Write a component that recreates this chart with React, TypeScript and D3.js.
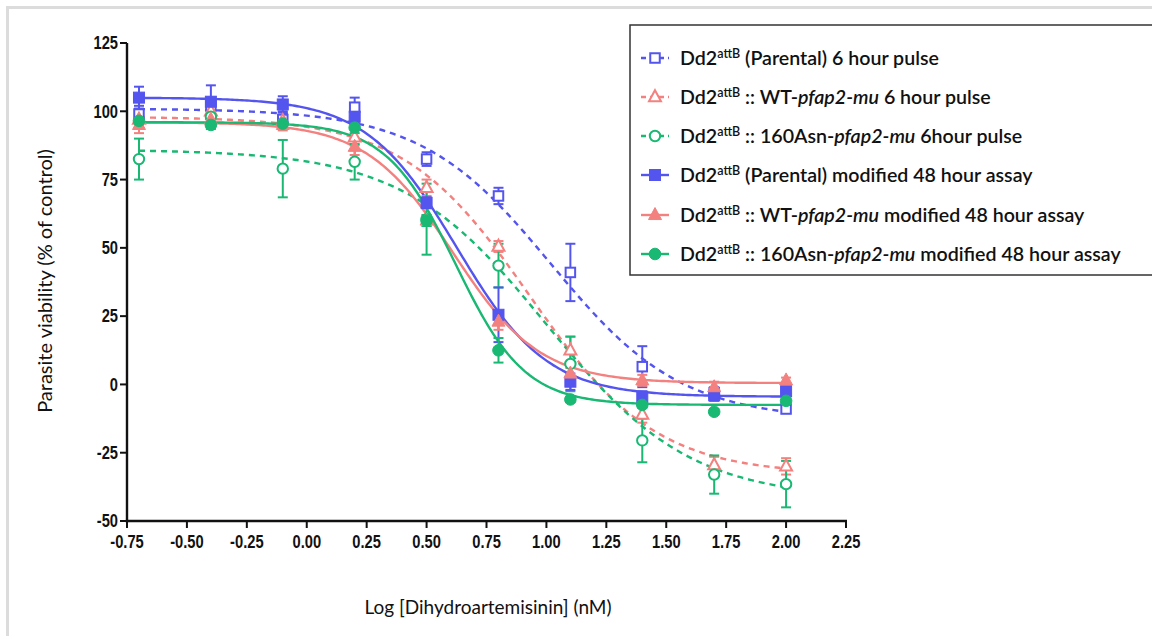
import React from "react";
import * as d3 from "d3";

const logDose = [-0.7, -0.4, -0.1, 0.2, 0.5, 0.8, 1.1, 1.4, 1.7, 2.0];

const parental6h = [99, 102, 97, 101.5, 82.5, 69, 41, 6.5, -3, -9];
const parental6hErr = [3, 3, 3, 3.5, 2.5, 3, 10.5, 7.5, 2, 1.5];
const wt6h = [97, 100, 96.5, 90.5, 72, 50.5, 12.5, -11, -29.5, -30];
const wt6hErr = [2, 2, 2, 3, 3, 2, 5, 3, 3, 3];
const asn6h = [82.5, 98, 79, 81.5, 60.5, 43.5, 7.5, -20.5, -33, -36.5];
const asn6hErr = [7.5, 2, 10.5, 6.5, 13, 8, 10, 8, 7, 8.5];
const parental48h = [105, 103.5, 102.5, 98, 66.5, 25.5, 1, -4.5, -4, -2.5];
const parental48hErr = [4, 6, 3, 3, 2, 10, 3, 2, 2, 1];
const wt48h = [95, 97, 95, 87, 60, 23, 4, 1.5, -1, 1.5];
const wt48hErr = [3, 3, 2, 3, 2, 3, 2, 2, 2, 1];
const asn48h = [96.5, 95, 95.5, 94, 60, 12.5, -5.5, -7.5, -10, -6];
const asn48hErr = [2, 1.5, 2, 2, 2, 4.5, 1, 1, 1, 1];

// four-parameter logistic fit parameters per series
const fitTop = [101, 98, 86, 105, 96, 96];
const fitBottom = [-13, -33, -42, -4.5, 0.5, -7.5];
const fitLogEC50 = [1.02, 0.93, 1.0, 0.625, 0.61, 0.62];
const fitHill = [1.6, 1.65, 1.45, 2.3, 2.4, 3.0];

const xTicks = [-0.75, -0.5, -0.25, 0, 0.25, 0.5, 0.75, 1.0, 1.25, 1.5, 1.75, 2.0, 2.25];
const yTicks = [-50, -25, 0, 25, 50, 75, 100, 125];

const BLUE = "#5454ef";
const PINK = "#f3817f";
const GREEN = "#19b873";

const seriesValues = [parental6h, wt6h, asn6h, parental48h, wt48h, asn48h];
const seriesErrors = [parental6hErr, wt6hErr, asn6hErr, parental48hErr, wt48hErr, asn48hErr];
const seriesColors = [BLUE, PINK, GREEN, BLUE, PINK, GREEN];
const seriesShapes = ["square", "triangle", "circle", "square", "triangle", "circle"];
const seriesFilled = [false, false, false, true, true, true];
const seriesDashed = [true, true, true, false, false, false];

const legendPrefix = [" (Parental) 6 hour pulse", " :: WT-", " :: 160Asn-", " (Parental) modified 48 hour assay", " :: WT-", " :: 160Asn-"];
const legendItalic = ["", "pfap2-mu", "pfap2-mu", "", "pfap2-mu", "pfap2-mu"];
const legendSuffix = ["", " 6 hour pulse", " 6hour pulse", "", " modified 48 hour assay", " modified 48 hour assay"];

const x = d3.scaleLinear().domain([-0.75, 2.25]).range([127, 846]);
const y = d3.scaleLinear().domain([-50, 125]).range([521, 43]);

function logistic(i: number, xv: number) {
  return fitBottom[i] + (fitTop[i] - fitBottom[i]) / (1 + Math.pow(10, (xv - fitLogEC50[i]) * fitHill[i]));
}

function Marker({ shape, filled, color, cx, cy }: any) {
  const fill = filled ? color : "#ffffff";
  const sw = filled ? 1 : 2;
  if (shape === "square") {
    const s = filled ? 11 : 9.5;
    return <rect x={cx - s / 2} y={cy - s / 2} width={s} height={s} fill={fill} stroke={color} strokeWidth={sw} />;
  }
  if (shape === "circle") {
    const r = filled ? 5.8 : 5.2;
    return <circle cx={cx} cy={cy} r={r} fill={fill} stroke={color} strokeWidth={sw} />;
  }
  const h = filled ? 12 : 11;
  const w = filled ? 13 : 12;
  const p = `M${cx},${cy - h * 0.62} L${cx + w / 2},${cy + h * 0.38} L${cx - w / 2},${cy + h * 0.38} Z`;
  return <path d={p} fill={fill} stroke={color} strokeWidth={sw} strokeLinejoin="miter" />;
}

export default function App() {
  const curveX = d3.range(-0.7, 2.0001, 0.01);
  const line = d3
    .line<number[]>()
    .x((d) => x(d[0]))
    .y((d) => y(d[1]));

  const order = [0, 1, 2, 3, 4, 5];
  const tickFont = "'Liberation Sans Narrow', 'Arial Narrow', 'Liberation Sans', sans-serif";
  const textFont = "Lato, 'Open Sans', sans-serif";
  const legendY = [58, 97, 136, 175, 215, 254];

  return (
    <svg width={1152} height={636} style={{ position: "absolute", left: 0, top: 0 }} xmlns="http://www.w3.org/2000/svg">
      <rect x={0} y={0} width={1152} height={636} fill="#ffffff" />
      <rect x={7.5} y={7.5} width={1200} height={700} fill="#ffffff" stroke="#dcdcdc" strokeWidth={3} />

      {/* curves */}
      {order.map((i) => (
        <path
          key={"c" + i}
          d={line(curveX.map((xv) => [xv, logistic(i, xv)])) || ""}
          fill="none"
          stroke={seriesColors[i]}
          strokeWidth={2.4}
          strokeDasharray={seriesDashed[i] ? "6,5" : undefined}
        />
      ))}

      {/* error bars */}
      {order.map((i) =>
        logDose.map((xv, j) => {
          const v = seriesValues[i][j];
          const e = seriesErrors[i][j];
          const cx = x(xv);
          return (
            <g key={"e" + i + "-" + j} stroke={seriesColors[i]} strokeWidth={2}>
              <line x1={cx} x2={cx} y1={y(v + e)} y2={y(v - e)} />
              <line x1={cx - 5} x2={cx + 5} y1={y(v + e)} y2={y(v + e)} />
              <line x1={cx - 5} x2={cx + 5} y1={y(v - e)} y2={y(v - e)} />
            </g>
          );
        })
      )}

      {/* markers */}
      {order.map((i) =>
        logDose.map((xv, j) => (
          <Marker
            key={"m" + i + "-" + j}
            shape={seriesShapes[i]}
            filled={seriesFilled[i]}
            color={seriesColors[i]}
            cx={x(xv)}
            cy={y(seriesValues[i][j])}
          />
        ))
      )}

      {/* axes */}
      <line x1={127} x2={127} y1={y(125)} y2={y(-50) + 1.2} stroke="#111" strokeWidth={2.4} />
      <line x1={127 - 1.2} x2={x(2.25) + 1} y1={y(-50)} y2={y(-50)} stroke="#111" strokeWidth={2.4} />
      {yTicks.map((t) => (
        <g key={"yt" + t}>
          <line x1={120} x2={127} y1={y(t)} y2={y(t)} stroke="#111" strokeWidth={2} />
          <text
            transform={`translate(118,${y(t) + 6.3}) scale(0.84,1)`}
            textAnchor="end"
            fontFamily={tickFont}
            fontWeight="bold"
            fontSize={17.5}
            fill="#111"
          >
            {t}
          </text>
        </g>
      ))}
      {xTicks.map((t) => (
        <g key={"xt" + t}>
          <line x1={x(t)} x2={x(t)} y1={y(-50)} y2={y(-50) + 7} stroke="#111" strokeWidth={2} />
          <text
            transform={`translate(${x(t)},548) scale(0.84,1)`}
            textAnchor="middle"
            fontFamily={tickFont}
            fontWeight="bold"
            fontSize={17.5}
            fill="#111"
          >
            {t.toFixed(2)}
          </text>
        </g>
      ))}

      <text x={488} y={614} textAnchor="middle" fontFamily={textFont} fontSize={19} fill="#111">
        Log [Dihydroartemisinin] (nM)
      </text>
      <text
        transform={`translate(52,${281}) rotate(-90)`}
        textAnchor="middle"
        fontFamily={textFont}
        fontSize={20}
        fill="#111"
      >
        Parasite viability (% of control)
      </text>

      {/* legend */}
      <rect x={630} y={25} width={600} height={250} fill="#ffffff" stroke="#333" strokeWidth={1.5} />
      {order.map((i) => {
        const ly = legendY[i];
        return (
          <g key={"lg" + i}>
            <line
              x1={641}
              x2={669}
              y1={ly}
              y2={ly}
              stroke={seriesColors[i]}
              strokeWidth={2.4}
              strokeDasharray={seriesDashed[i] ? "5,4" : undefined}
            />
            <Marker shape={seriesShapes[i]} filled={seriesFilled[i]} color={seriesColors[i]} cx={655} cy={ly} />
            <text x={680} y={ly + 7} fontFamily={textFont} fontWeight={600} fontSize={19.6} fill="#111">
              <tspan>Dd2</tspan>
              <tspan fontSize={12.5} dy={-7}>attB</tspan>
              <tspan dy={7}>{legendPrefix[i]}</tspan>
              {legendItalic[i] ? <tspan fontStyle="italic">{legendItalic[i]}</tspan> : null}
              {legendSuffix[i] ? <tspan>{legendSuffix[i]}</tspan> : null}
            </text>
          </g>
        );
      })}
    </svg>
  );
}
